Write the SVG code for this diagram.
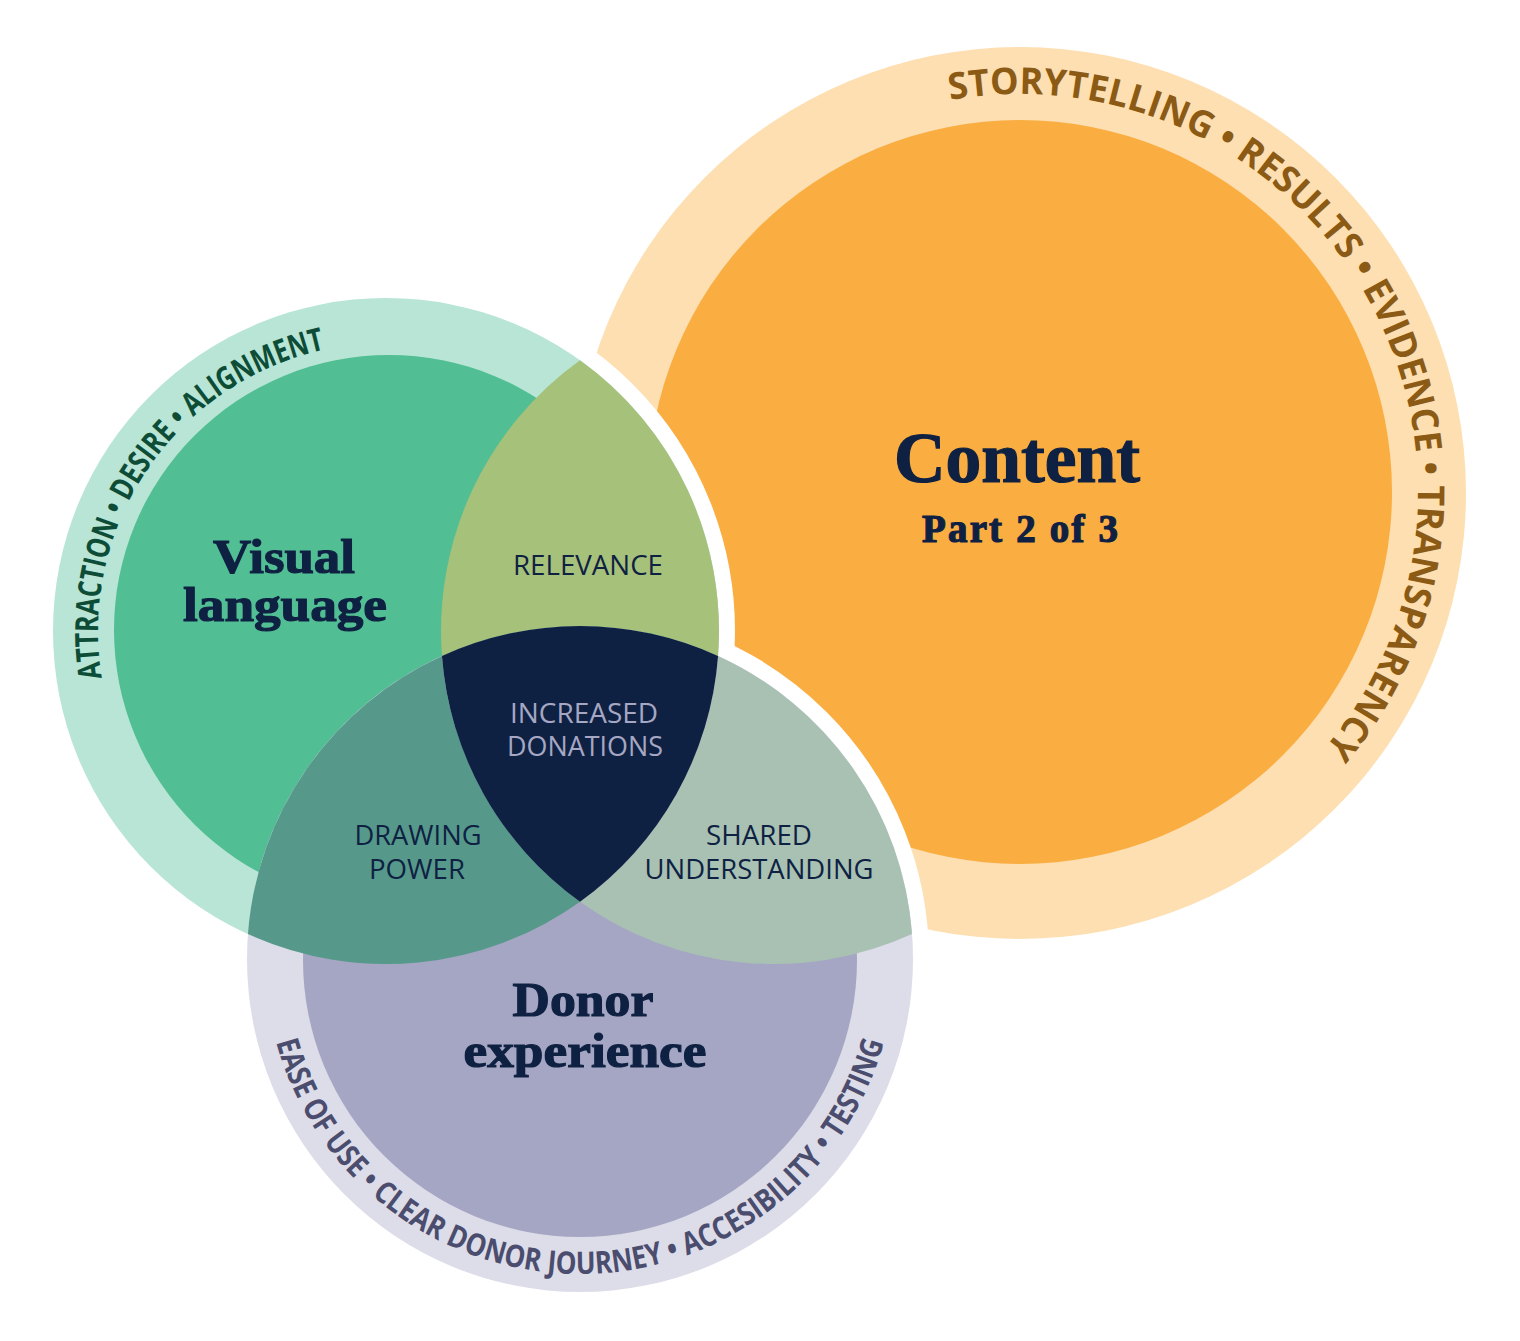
<svg xmlns="http://www.w3.org/2000/svg" width="1520" height="1341" viewBox="0 0 1520 1341">
<style>
.title{font-family:"Liberation Serif","DejaVu Serif",serif;font-weight:700;fill:#0f2142;stroke:#0f2142;stroke-width:1.2;text-anchor:middle}
.lbl{font-family:"Open Sans","Noto Sans",sans-serif;font-size:28px;font-weight:400;fill:#0f2142;text-anchor:middle}
.ring{font-family:"Open Sans","Noto Sans",sans-serif;font-weight:700}
.gap{fill:none;stroke:#ffffff;stroke-width:32}
</style>
<defs>
<path id="pathGreen" d="M101.9 678.0 A288 288 0 0 1 325.1 349.5"/>
<path id="pathOrange" d="M950.2 100.2 A398 398 0 0 1 1324.9 747.8"/>
<path id="pathDonor" d="M276.2 1042.1 A315 315 0 0 0 883.7 1042.7"/>
</defs>
<rect width="1520" height="1341" fill="#ffffff"/>
<g id="node-content">
<circle cx="1020" cy="493" r="446" fill="#fddfb2"/>
<circle cx="1020" cy="492" r="372" fill="#faae42"/>
<text class="title" x="1017" y="482" font-size="71" textLength="246" lengthAdjust="spacingAndGlyphs">Content</text>
<text class="title" x="1020" y="542" font-size="39" textLength="196" lengthAdjust="spacing" stroke-width="0.6">Part 2 of 3</text>
<text class="ring" font-size="37" fill="#8b5a14"><textPath href="#pathOrange" textLength="973" lengthAdjust="spacingAndGlyphs">STORYTELLING • RESULTS • EVIDENCE • TRANSPARENCY</textPath></text>
</g>
<g id="gaps">
<circle class="gap" cx="386" cy="631" r="333"/>
<circle class="gap" cx="580" cy="959" r="333"/>
</g>
<g id="node-visual">
<circle cx="386" cy="631" r="333" fill="#b8e5d5"/>
<circle cx="389" cy="630" r="275" fill="#52be94"/>
<text class="title" x="284" y="573" font-size="49" textLength="142" lengthAdjust="spacingAndGlyphs">Visual</text>
<text class="title" x="285" y="621" font-size="49" textLength="204" lengthAdjust="spacingAndGlyphs">language</text>
<text class="ring" font-size="32" fill="#0d4d37"><textPath href="#pathGreen" textLength="438" lengthAdjust="spacingAndGlyphs">ATTRACTION • DESIRE • ALIGNMENT</textPath></text>
</g>
<g id="node-donor">
<circle cx="580" cy="959" r="333" fill="#dddce9"/>
<circle cx="580" cy="960" r="277" fill="#a5a6c3"/>
<text class="title" x="583" y="1016" font-size="49" textLength="141" lengthAdjust="spacingAndGlyphs">Donor</text>
<text class="title" x="585" y="1067" font-size="49" textLength="243" lengthAdjust="spacingAndGlyphs">experience</text>
<text class="ring" font-size="31" font-weight="600" fill="#4a4d6e"><textPath href="#pathDonor" textLength="821" lengthAdjust="spacingAndGlyphs">EASE OF USE • CLEAR DONOR JOURNEY • ACCESIBILITY • TESTING</textPath></text>
</g>
<g id="node-relevance">
<path d="M580 360.35 A333 333 0 0 1 718.06 655.96 A333 333 0 0 0 441.94 655.96 A333 333 0 0 1 580 360.35 Z" fill="#a6c17a"/>
<text class="lbl" x="588" y="575" textLength="150" lengthAdjust="spacingAndGlyphs">RELEVANCE</text>
</g>
<g id="node-drawing-power">
<path d="M247.94 934.04 A333 333 0 0 1 441.94 655.96 A333 333 0 0 0 580 901.65 A333 333 0 0 1 247.94 934.04 Z" fill="#56998b"/>
<text class="lbl" x="418" y="845" textLength="127" lengthAdjust="spacingAndGlyphs">DRAWING</text>
<text class="lbl" x="417" y="879" textLength="96" lengthAdjust="spacingAndGlyphs">POWER</text>
</g>
<g id="node-shared">
<path d="M718.06 655.96 A333 333 0 0 1 912.06 934.04 A333 333 0 0 1 580 901.65 A333 333 0 0 0 718.06 655.96 Z" fill="#a8c1b3"/>
<text class="lbl" x="759" y="845" textLength="106" lengthAdjust="spacingAndGlyphs">SHARED</text>
<text class="lbl" x="759" y="879" textLength="229" lengthAdjust="spacingAndGlyphs">UNDERSTANDING</text>
</g>
<g id="node-increased-donations">
<path d="M441.94 655.96 A333 333 0 0 1 718.06 655.96 A333 333 0 0 1 580 901.65 A333 333 0 0 1 441.94 655.96 Z" fill="#0f2142"/>
<text class="lbl" x="584" y="723" fill="#a5a7c3" style="fill:#a5a7c3" textLength="148" lengthAdjust="spacingAndGlyphs">INCREASED</text>
<text class="lbl" x="585" y="756" style="fill:#a5a7c3" textLength="156" lengthAdjust="spacingAndGlyphs">DONATIONS</text>
</g>
<g id="connectors"/>
</svg>
